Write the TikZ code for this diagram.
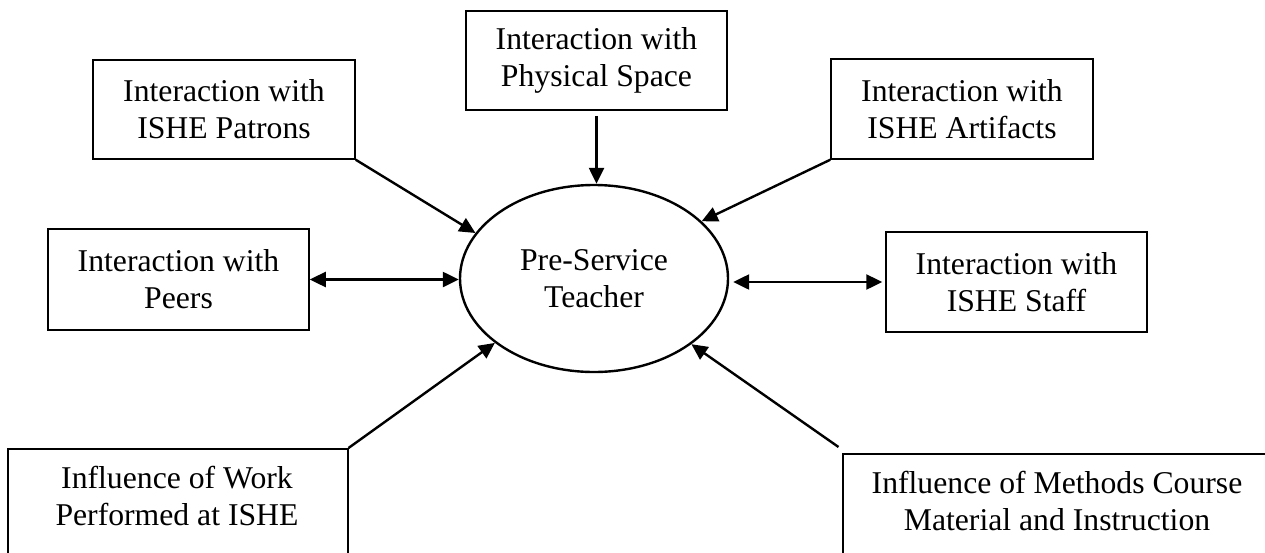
\documentclass[tikz,border=0pt]{standalone}
\usepackage{fontspec}
\setmainfont{Liberation Serif}
\usetikzlibrary{arrows.meta,shapes.geometric}
\begin{document}
\begin{tikzpicture}[x=1pt,y=-1pt,
  box/.style={draw, line width=1.5pt, inner sep=0pt},
  txt/.style={align=center, font=\fontsize{31.7}{36.7}\selectfont, inner sep=0pt},
  arr/.style={line width=2.4pt, -{Triangle[length=16pt,width=15pt]}},
  darr/.style={line width=2.4pt, {Triangle[length=16pt,width=15pt]}-{Triangle[length=16pt,width=15pt]}}]
\useasboundingbox (0,0) rectangle (1265,552);
\clip (0,0) rectangle (1265,552);
\node[box, txt, minimum width=262pt, minimum height=99pt] (pat) at (224,109.5) {Interaction with\\ISHE Patrons};
\node[box, txt, minimum width=261pt, minimum height=99pt] (phys) at (596.5,60.5) {Interaction with\\Physical Space};
\node[box, txt, minimum width=262pt, minimum height=100pt] (art) at (962,109) {Interaction with\\ISHE Artifacts};
\node[box, txt, minimum width=261pt, minimum height=101pt] (peer) at (178.5,279.5) {Interaction with\\Peers};
\node[box, txt, minimum width=261pt, minimum height=100pt] (staff) at (1016.5,282) {Interaction with\\ISHE Staff};
\node[ellipse, draw, line width=2.4pt, minimum width=268pt, minimum height=187pt, txt] (pst) at (594,278.5) {Pre-Service\\Teacher};
\node[box, anchor=north west, minimum width=340pt, minimum height=160pt] (work) at (7,448) {};
\node[txt] (worktxt) at (177,496) {Influence of Work\\Performed at ISHE};
\node[box, anchor=north west, minimum width=428pt, minimum height=160pt] (meth) at (842,453) {};
\node[txt] (methtxt) at (1057,501) {Influence of Methods Course\\Material and Instruction};
\draw[arr] (pat.south east) -- (pst.159);
\draw[arr, shorten <=5pt] (phys.south) -- (phys.south |- pst.north);
\draw[arr] (art.south west) -- (pst.28);
\draw[darr] (peer.east) -- (peer.east -| pst.west);
\draw[darr, shorten <=4pt, shorten >=3pt] (staff.west -| pst.east) -- (staff.west);
\draw[arr] (work.north east) -- (pst.213);
\draw[arr] ([shift={(-3.5,-6)}]meth.north west) -- (pst.326);
\end{tikzpicture}
\end{document}
